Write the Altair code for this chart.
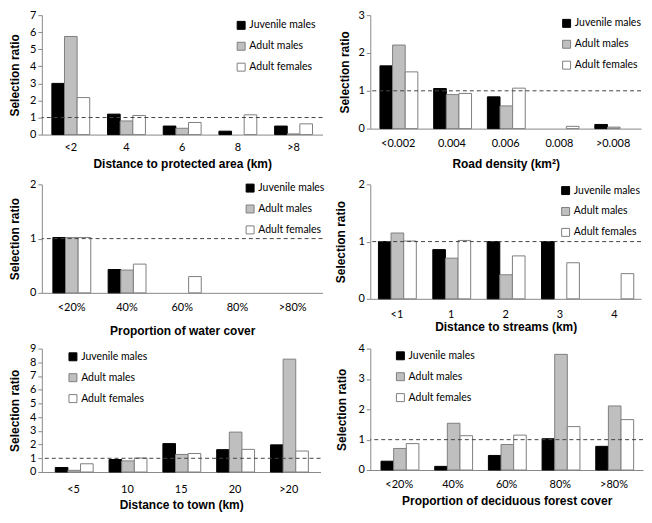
import altair as alt
import pandas as pd

series = ["Juvenile males", "Adult males", "Adult females"]
fill_colors = ["#000000", "#bfbfbf", "#ffffff"]
stroke_colors = ["#000000", "#7f7f7f", "#7f7f7f"]

# Panel 1: Distance to protected area
p1_cats = ["<2", "4", "6", "8", ">8"]
p1_juv = [3.0, 1.2, 0.5, 0.2, 0.5]
p1_am = [5.75, 0.8, 0.37, 0, 0.04]
p1_af = [2.17, 1.12, 0.71, 1.16, 0.63]

# Panel 2: Road density
p2_cats = ["<0.002", "0.004", "0.006", "0.008", ">0.008"]
p2_juv = [1.66, 1.06, 0.84, 0, 0.11]
p2_am = [2.21, 0.90, 0.60, 0, 0.04]
p2_af = [1.50, 0.93, 1.07, 0.06, 0]

# Panel 3: Proportion of water cover
p3_cats = ["<20%", "40%", "60%", "80%", ">80%"]
p3_juv = [1.02, 0.43, 0, 0, 0]
p3_am = [1.02, 0.42, 0, 0, 0]
p3_af = [1.02, 0.53, 0.30, 0, 0]

# Panel 4: Distance to streams
p4_cats = ["<1", "1", "2", "3", "4"]
p4_juv = [1.0, 0.86, 1.0, 1.0, 0]
p4_am = [1.15, 0.71, 0.42, 0, 0]
p4_af = [1.01, 1.02, 0.75, 0.63, 0.44]

# Panel 5: Distance to town
p5_cats = ["<5", "10", "15", "20", ">20"]
p5_juv = [0.33, 0.91, 2.07, 1.63, 1.98]
p5_am = [0.12, 0.81, 1.28, 2.91, 8.23]
p5_af = [0.60, 1.02, 1.35, 1.65, 1.53]

# Panel 6: Proportion of deciduous forest cover
p6_cats = ["<20%", "40%", "60%", "80%", ">80%"]
p6_juv = [0.29, 0.12, 0.48, 1.03, 0.78]
p6_am = [0.71, 1.54, 0.84, 3.81, 2.11]
p6_af = [0.87, 1.13, 1.15, 1.43, 1.66]


def make_df(cats, juv, am, af):
    rows = []
    for s, vals in zip(series, [juv, am, af]):
        for c, v in zip(cats, vals):
            rows.append({"cat": c, "series": s, "value": v})
    return pd.DataFrame(rows)


def panel(cats, juv, am, af, xtitle, ymax, w, h, po, lx, ly, lpad, xty, ytx):
    df = make_df(cats, juv, am, af)
    leg = alt.Legend(title=None, orient="none", legendX=lx, legendY=ly,
                     symbolType="square", symbolSize=64, symbolStrokeWidth=1,
                     labelFont="Lato", labelFontSize=10.5, labelColor="#000",
                     rowPadding=8, padding=0, labelOffset=3)
    yscale = alt.Scale(domain=[0, ymax], nice=False, zero=True)
    yaxis = alt.Axis(tickCount=ymax, format="d", tickSize=4, labelPadding=2,
                     labelOverlap=False, labelFlush=False,
                     titleX=ytx, titleY=h / 2, titleBaseline="bottom",
                     titleAngle=270, titleAlign="center", grid=False)
    bars = alt.Chart(df).transform_filter("datum.value > 0").mark_bar(strokeWidth=1).encode(
        x=alt.X("cat:N", sort=cats, title=xtitle,
                scale=alt.Scale(domain=cats, paddingInner=0.32, paddingOuter=po),
                axis=alt.Axis(labelAngle=0, ticks=False, labelPadding=lpad,
                              titleY=xty, titleBaseline="middle")),
        xOffset=alt.XOffset("series:N", sort=series, scale=alt.Scale(domain=series, paddingInner=0, paddingOuter=0)),
        y=alt.Y("value:Q", title="Selection ratio", scale=yscale, axis=yaxis),
        fill=alt.Fill("series:N", sort=series,
                      scale=alt.Scale(domain=series, range=fill_colors), legend=leg),
        stroke=alt.Stroke("series:N", sort=series,
                          scale=alt.Scale(domain=series, range=stroke_colors), legend=leg),
    )
    rule = alt.Chart(pd.DataFrame({"ref": [1]})).mark_rule(
        color="#444", strokeDash=[4, 3], strokeWidth=1).encode(
        y=alt.Y("ref:Q", scale=yscale, axis=None))
    return alt.layer(bars, rule).resolve_axis(y="independent").properties(width=w, height=h)


c1 = panel(p1_cats, p1_juv, p1_am, p1_af, "Distance to protected area (km)", 7, 282, 120, 0.18, 195, 5, 6.5, 29, -20)
c2 = panel(p2_cats, p2_juv, p2_am, p2_af, "Road density (km²)", 3, 272, 114, 0.18, 192, 3, 8.5, 35.5, -19)
c3 = panel(p3_cats, p3_juv, p3_am, p3_af, "Proportion of water cover", 2, 282, 109, 0.2, 204, -1.5, 8.5, 37.5, -20)
c4 = panel(p4_cats, p4_juv, p4_am, p4_af, "Distance to streams (km)", 2, 272, 115, 0.15, 191, 1, 9.5, 28, -23)
c5 = panel(p5_cats, p5_juv, p5_am, p5_af, "Distance to town (km)", 9, 280, 124, 0.25, 26, 3, 12, 33, -20)
c6 = panel(p6_cats, p6_juv, p6_am, p6_af, "Proportion of deciduous forest cover", 4, 274, 122, 0.2, 25, 2, 8.5, 31, -22)

res = dict(fill="independent", stroke="independent")
chart = alt.concat(c1, c2, c3, c4, c5, c6, columns=2, bounds="flush", align="each",
                   spacing={"row": 50, "column": 48}).resolve_scale(**res).resolve_legend(**res).properties(
    padding=0
).configure_view(stroke=None).configure_axis(
    labelFont="Lato", labelFontSize=11, labelColor="#000",
    titleFont="Liberation Sans", titleFontSize=12, titleFontWeight="bold", titleColor="#000",
    domainColor="#888", tickColor="#888"
)

chart.save("out.html", embed_options={"renderer": "svg", "actions": False})
